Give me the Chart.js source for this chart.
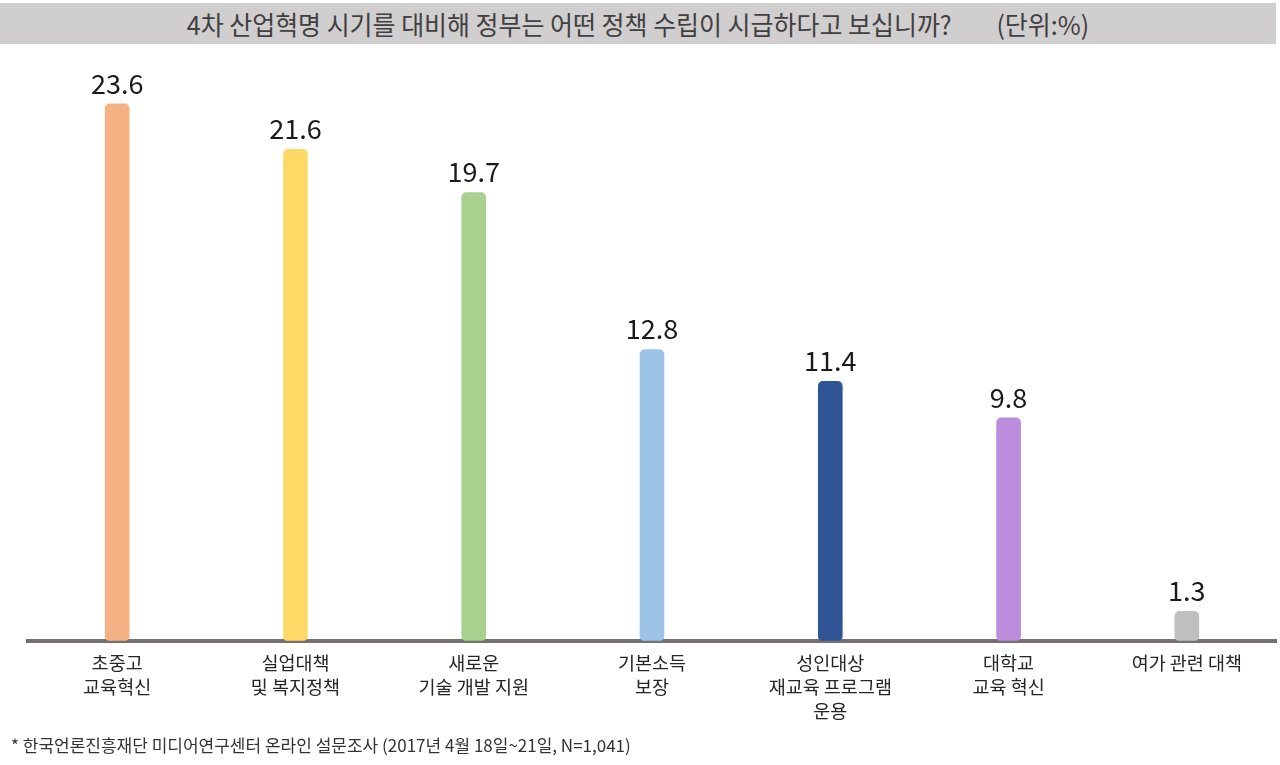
<!DOCTYPE html>
<html>
<head>
<meta charset="utf-8">
<script src="https://cdn.jsdelivr.net/npm/chart.js@4"></script>
<style>
  body { margin: 0; background: #fff; font-family: "Noto Sans CJK KR", sans-serif; }
  #wrap { position: relative; width: 1280px; height: 765px; overflow: hidden; }
  #title-bar {
    position: absolute; left: 0; top: 3px; width: 1276px; height: 41px;
    background: #d0cece; text-align: center; line-height: 41px;
  }
  #title-bar span {
    display: inline-block; font-size: 26px; color: #404040;
    transform: scaleX(0.96); transform-origin: center; white-space: pre;
  }
  #note { position: absolute; left: 11px; top: 732px; font-size: 17px; color: #333; }
  canvas { position: absolute; left: 0; top: 0; }
</style>
</head>
<body>
<div id="wrap">
  <div id="title-bar"><span>4차 산업혁명 시기를 대비해 정부는 어떤 정책 수립이 시급하다고 보십니까?        (단위:%)</span></div>
  <canvas id="chart" width="1280" height="765"></canvas>
  <div id="note">* 한국언론진흥재단 미디어연구센터 온라인 설문조사 (2017년 4월 18일~21일, N=1,041)</div>
</div>
<script>
// --- data ---
const categories = [
    ['초중고', '교육혁신'],
    ['실업대책', '및 복지정책'],
    ['새로운', '기술 개발 지원'],
    ['기본소득', '보장'],
    ['성인대상', '재교육 프로그램', '운용'],
    ['대학교', '교육 혁신'],
    ['여가 관련 대책']
];
const values = [23.6, 21.6, 19.7, 12.8, 11.4, 9.8, 1.3];
const barColors = ['#f4b183', '#ffd966', '#a9d18e', '#9dc3e6', '#2f5597', '#bb8ddc', '#bfbfbf'];

// value labels above bars
const valueLabels = {
    id: 'valueLabels',
    afterDatasetsDraw(chart) {
        const c = chart.ctx;
        const meta = chart.getDatasetMeta(0);
        c.save();
        c.font = '27px "Noto Sans CJK KR", sans-serif';
        c.fillStyle = '#1a1a1a';
        c.textAlign = 'center';
        c.textBaseline = 'bottom';
        meta.data.forEach((bar, i) => {
            c.fillText(values[i].toFixed(1), bar.x, bar.y - 7);
        });
        c.restore();
    }
};

const ctx = document.getElementById('chart').getContext('2d');
new Chart(ctx, {
    type: 'bar',
    data: {
        labels: categories,
        datasets: [{
            data: values,
            backgroundColor: barColors,
            borderRadius: 5,
            borderSkipped: false,
            barThickness: 24
        }]
    },
    options: {
        responsive: false,
        animation: false,
        layout: { padding: { left: 28, right: 4, top: 72, bottom: 40 } },
        plugins: { legend: { display: false }, tooltip: { enabled: false } },
        scales: {
            x: {
                grid: { display: false },
                border: { display: true, color: '#767171', width: 4 },
                ticks: {
                    color: '#262626',
                    padding: 2,
                    maxRotation: 0,
                    autoSkip: false,
                    font: { size: 18.5, family: '"Noto Sans CJK KR", sans-serif', lineHeight: 1.3 }
                }
            },
            y: {
                display: false,
                min: 0,
                max: 25
            }
        }
    },
    plugins: [valueLabels]
});
</script>
</body>
</html>
